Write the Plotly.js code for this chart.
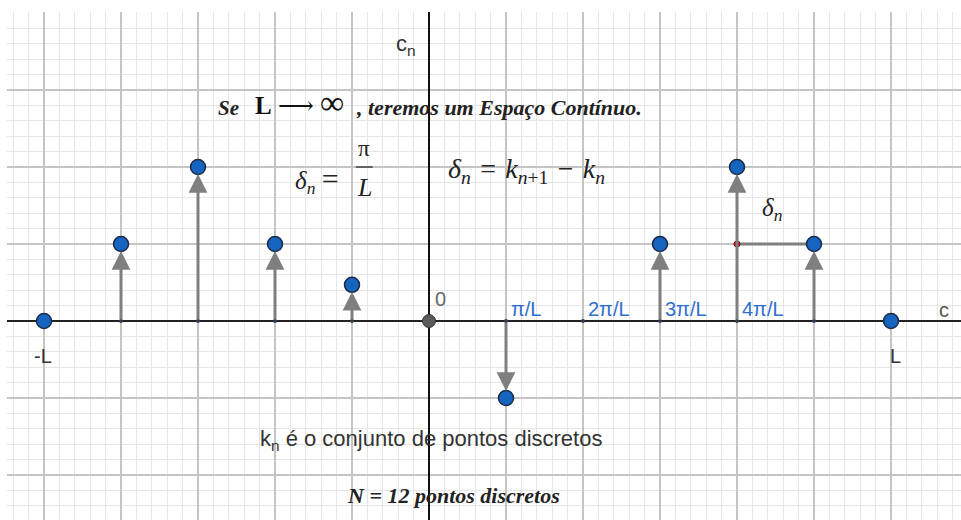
<!DOCTYPE html>
<html>
<head>
<meta charset="utf-8">
<script src="https://cdn.plot.ly/plotly-3.0.1.min.js"></script>
<style>
  html, body { margin: 0; padding: 0; background: #ffffff; }
  #chart { width: 961px; height: 520px; }
</style>
</head>
<body>
<div id="chart"></div>
<script>
// Discrete spectrum: positions k_n (in units of pi/L) and coefficients c_n
const pointK = [-5, -4, -3, -2, -1, 1, 3, 4, 5, 6];
const pointC = [0, 1, 2, 1, 0.47, -1, 1, 2, 1, 0];
const axisDotK = [-4, -3, -2, -1, 1, 2, 3, 4, 5];
const originK = [0];
const originC = [0];
const deltaK = [4, 5];
const deltaC = [1, 1];
const tickK = [1, 2, 3, 4];
const tickLabels = ['π/L', '2π/L', '3π/L', '4π/L'];
const endK = [-5, 6];
const endLabels = ['-L', 'L'];

const blue = '#1565c0';
const stemGray = '#7f7f7f';
const serif = '"Liberation Serif", "DejaVu Serif", serif';
const sans = '"Liberation Sans", Arial, sans-serif';
const sp = '\u2004';

const traces = [
  // spacing segment delta_n between k_4 and k_5
  { x: deltaK, y: deltaC, mode: 'lines', line: { color: stemGray, width: 3 },
    hoverinfo: 'skip', showlegend: false },
  // small points sitting on the horizontal axis
  { x: axisDotK, y: axisDotK.map(() => 0), mode: 'markers',
    marker: { size: 4, color: '#2f3d55' }, hoverinfo: 'skip', showlegend: false },
  // origin
  { x: originK, y: originC, mode: 'markers',
    marker: { size: 13, color: '#5a5a5a', line: { color: '#333333', width: 1 } },
    hoverinfo: 'skip', showlegend: false },
  // red corner point of the delta_n segment
  { x: [deltaK[0]], y: [deltaC[0]], mode: 'markers',
    marker: { size: 6, color: '#e01020', line: { color: '#700000', width: 1 } },
    hoverinfo: 'skip', showlegend: false },
  // coefficient points
  { x: pointK, y: pointC, mode: 'markers',
    marker: { size: 15, color: blue, line: { color: '#1b2a45', width: 1.5 } },
    hoverinfo: 'skip', showlegend: false }
];

const annotations = [];

// stems: arrows from the axis up (or down) to each nonzero coefficient
pointK.forEach((k, i) => {
  const c = pointC[i];
  if (c === 0) return;
  annotations.push({
    x: k, y: c, ax: k, ay: 0, xref: 'x', yref: 'y', axref: 'x', ayref: 'y',
    showarrow: true, arrowhead: 2, arrowsize: 1.25, arrowwidth: 3,
    arrowcolor: stemGray, standoff: 7, text: ''
  });
});

// tick labels along the positive axis
tickK.forEach((k, i) => {
  annotations.push({
    x: k, y: 0, xref: 'x', yref: 'y', xanchor: 'left', yanchor: 'bottom',
    xshift: 3, yshift: -1, showarrow: false, text: tickLabels[i],
    font: { family: sans, size: 20, color: '#2f6fd0' }
  });
});

// -L and L under the end points
endK.forEach((k, i) => {
  annotations.push({
    x: k, y: 0, xref: 'x', yref: 'y', xanchor: 'center', yanchor: 'top',
    yshift: -22, xshift: i === 0 ? -1 : 4, showarrow: false, text: endLabels[i],
    font: { family: sans, size: 20, color: '#333333' }
  });
});

function txt(x, y, text, font, extra) {
  annotations.push(Object.assign({
    x: x, y: y, xref: 'x', yref: 'y', xanchor: 'left', yanchor: 'middle',
    showarrow: false, text: text, font: font
  }, extra || {}));
}

// axis names and origin label
txt(-0.46, 3.58, 'c<sub>n</sub>', { family: sans, size: 22, color: '#333333' });
txt(6.6, 0.14, 'c', { family: sans, size: 20, color: '#555555' });
txt(0.05, 0.28, '0', { family: sans, size: 20, color: '#666666' });

// headline statement
txt(-2.76, 2.77, '<b><i>Se</i></b>', { family: serif, size: 21, color: '#222222' });
txt(-2.28, 2.84, '<b>L</b> ⟶ <span style="font-size:34px">∞</span>',
    { family: serif, size: 25, color: '#111111' });
txt(-0.98, 2.77, '<b><i>, teremos um Espaço Contínuo.</i></b>',
    { family: serif, size: 22, color: '#222222' });

// delta_n = pi / L
txt(-1.77, 1.83, '<i>δ</i><sub><i>n</i></sub> <span style="font-size:30px">=</span>',
    { family: serif, size: 25, color: '#222222' });
txt(-0.84, 2.24, 'π', { family: serif, size: 23, color: '#222222' }, { xanchor: 'center' });
txt(-0.84, 1.73, '<i>L</i>', { family: serif, size: 26, color: '#222222' }, { xanchor: 'center' });

// delta_n = k_{n+1} - k_n
txt(0.22, 1.95, '<i>δ</i><sub><i>n</i></sub>' + sp + '=' + sp + '<i>k</i><sub><i>n</i>+1</sub>' + sp + '−' + sp + '<i>k</i><sub><i>n</i></sub>',
    { family: serif, size: 28, color: '#222222' });

// delta_n next to the spacing segment
txt(4.3, 1.45, '<i>δ</i><sub><i>n</i></sub>', { family: serif, size: 25, color: '#222222' });

// bottom notes
txt(-2.22, -1.55, 'k<sub>n</sub> é o conjunto de pontos discretos',
    { family: sans, size: 22, color: '#333333' });
txt(-1.09, -2.27, '<b><i>N = 12 pontos discretos</i></b>',
    { family: serif, size: 22, color: '#222222' });

const layout = {
  width: 961, height: 520,
  margin: { l: 7, r: 0, t: 12, b: 0, pad: 0 },
  paper_bgcolor: '#ffffff', plot_bgcolor: '#ffffff',
  showlegend: false,
  xaxis: {
    range: [-5.4805, 6.909], dtick: 1, tick0: 0, showticklabels: false, ticks: '',
    showgrid: true, gridcolor: '#c4c4c4', gridwidth: 1.5,
    minor: { dtick: 0.2, tick0: 0, showgrid: true, gridcolor: '#e6e6e6', gridwidth: 1 },
    zeroline: true, zerolinecolor: '#111111', zerolinewidth: 1.5,
    showline: false, fixedrange: true
  },
  yaxis: {
    range: [-2.584, 4.013], dtick: 1, tick0: 0, showticklabels: false, ticks: '',
    showgrid: true, gridcolor: '#c4c4c4', gridwidth: 1.5,
    minor: { dtick: 0.2, tick0: 0, showgrid: true, gridcolor: '#e6e6e6', gridwidth: 1 },
    zeroline: true, zerolinecolor: '#222222', zerolinewidth: 1.5,
    showline: false, fixedrange: true
  },
  shapes: [
    // fraction bar of pi / L
    { type: 'line', xref: 'x', yref: 'y', x0: -0.95, x1: -0.73, y0: 2.0, y1: 2.0,
      line: { color: '#222222', width: 1.2 } }
  ],
  annotations: annotations
};

Plotly.newPlot('chart', traces, layout, { staticPlot: true, displayModeBar: false });
</script>
</body>
</html>
